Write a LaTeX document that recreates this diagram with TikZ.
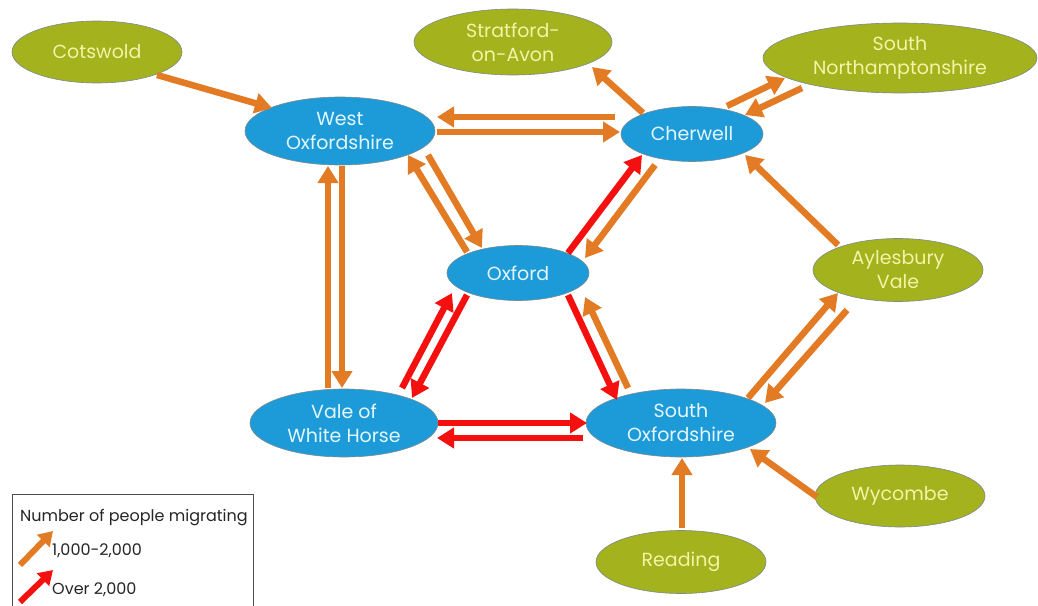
\documentclass[tikz,border=0pt]{standalone}
\usepackage{fontspec}
\setmainfont{Poppins}
\usetikzlibrary{shapes.geometric,arrows.meta,calc}
\definecolor{bluefill}{HTML}{1D9BD8}
\definecolor{olivefill}{HTML}{A3B21D}
\definecolor{bluetext}{HTML}{E4F6FF}
\definecolor{olivetext}{HTML}{F6F3A6}
\definecolor{arrorange}{HTML}{E37B25}
\definecolor{arrred}{HTML}{F51010}
\definecolor{edgegray}{HTML}{7A8A8F}
\tikzset{
  district/.style={ellipse, draw=edgegray, line width=0.6pt, inner sep=0pt, align=center,
    font=\fontsize{19}{24}\selectfont},
  bluenode/.style={district, fill=bluefill, text=bluetext},
  olivenode/.style={district, fill=olivefill, text=olivetext},
  oarr/.style={draw=arrorange, line width=6.5pt, -{Triangle[length=17pt,width=20pt]}},
  rarr/.style={draw=arrred, line width=6.5pt, -{Triangle[length=17pt,width=20pt]}},
  legtext/.style={anchor=west, inner sep=0pt, font=\fontsize{16}{18}\selectfont, text=black!85}
}
\begin{document}
\begin{tikzpicture}[x=1pt,y=-1pt]
\useasboundingbox (0,0) rectangle (1038,605);
\fill[white] (0,0) rectangle (1038,605);
% nodes
\node[olivenode, minimum width=170pt, minimum height=62pt] (cot) at (97,52) {Cotswold};
\node[olivenode, minimum width=198pt, minimum height=66pt] (str) at (513,42) {Stratford-\\on-Avon};
\node[olivenode, minimum width=274pt, minimum height=70pt] (snh) at (900,58) {South\\Northamptonshire};
\node[bluenode, minimum width=190pt, minimum height=68pt] (wo) at (340,131) {West\\Oxfordshire};
\node[bluenode, minimum width=142pt, minimum height=55pt] (cw) at (692,134) {Cherwell};
\node[bluenode, minimum width=142pt, minimum height=55pt] (ox) at (518,273) {Oxford};
\node[olivenode, minimum width=170pt, minimum height=63pt] (av) at (898,270) {Aylesbury\\Vale};
\node[bluenode, minimum width=188pt, minimum height=68pt] (vw) at (344,423) {Vale of\\White Horse};
\node[bluenode, minimum width=190pt, minimum height=68pt] (so) at (681,423) {South\\Oxfordshire};
\node[olivenode, minimum width=170pt, minimum height=62pt] (wy) at (900,496) {Wycombe};
\node[olivenode, minimum width=170pt, minimum height=63pt] (rd) at (681,562) {Reading};
% connectors
\draw[oarr] ($(cot)+(60,23)$) -- ($(wo)+(-68,-23)$);
\draw[oarr] ($(cw)+(-77,-17)$) -- ($(wo)+(97,-14)$);
\draw[oarr] ($(wo)+(97,1)$) -- ($(cw)+(-72,-2)$);
\draw[oarr] ($(wo)+(88,24)$) -- ($(ox)+(-36,-25)$);
\draw[oarr] ($(ox)+(-51,-21)$) -- ($(wo)+(68,24)$);
\draw[oarr] ($(vw)+(-16,-35)$) -- ($(wo)+(-12,35)$);
\draw[oarr] ($(wo)+(2,35)$) -- ($(vw)+(-2,-35)$);
\draw[rarr] ($(ox)+(50,-20)$) -- ($(cw)+(-50,21)$);
\draw[oarr] ($(cw)+(-37,31)$) -- ($(ox)+(67,-15)$);
\draw[rarr] ($(vw)+(58,-35)$) -- ($(ox)+(-66,20)$);
\draw[rarr] ($(ox)+(-51,22)$) -- ($(vw)+(68,-25)$);
\draw[rarr] ($(ox)+(50,22)$) -- ($(so)+(-64,-23)$);
\draw[oarr] ($(so)+(-53,-35)$) -- ($(ox)+(67,24)$);
\draw[rarr] ($(vw)+(94,0)$) -- ($(so)+(-94,0)$);
\draw[rarr] ($(so)+(-98,15)$) -- ($(vw)+(93,15)$);
\draw[oarr] ($(cw)+(-49,-21)$) -- ($(str)+(79,25)$);
\draw[oarr] ($(cw)+(35,-28)$) -- ($(snh)+(-115,20)$);
\draw[oarr] ($(snh)+(-98,30)$) -- ($(cw)+(53,-19)$);
\draw[oarr] ($(av)+(-60,-25)$) -- ($(cw)+(53,21)$);
\draw[oarr] ($(so)+(67,-25)$) -- ($(av)+(-60,23)$);
\draw[oarr] ($(av)+(-51,40)$) -- ($(so)+(84,-20)$);
\draw[oarr] ($(wy)+(-83,1)$) -- ($(so)+(69,26)$);
\draw[oarr] ($(rd)+(1,-34)$) -- ($(so)+(1,35)$);
% legend
\draw[black!70, line width=1pt] (12,606) -- (12,494) -- (253,494) -- (253,606);
\node[legtext] (lt) at (20,518) {Number of people migrating};
\node[legtext] (l1) at (52,551) {1,000-2,000};
\node[legtext] (l2) at (52,590) {Over 2,000};
\coordinate (o1s) at (20,565);
\coordinate (r1s) at (20,602);
\draw[draw=arrorange, line width=6pt, -{Triangle[length=14pt,width=17pt]}] (o1s) -- ($(l1.west)+(1,-20)$);
\draw[draw=arrred, line width=6pt, -{Triangle[length=14pt,width=17pt]}] (r1s) -- ($(l2.west)+(1,-20)$);
\end{tikzpicture}
\end{document}
